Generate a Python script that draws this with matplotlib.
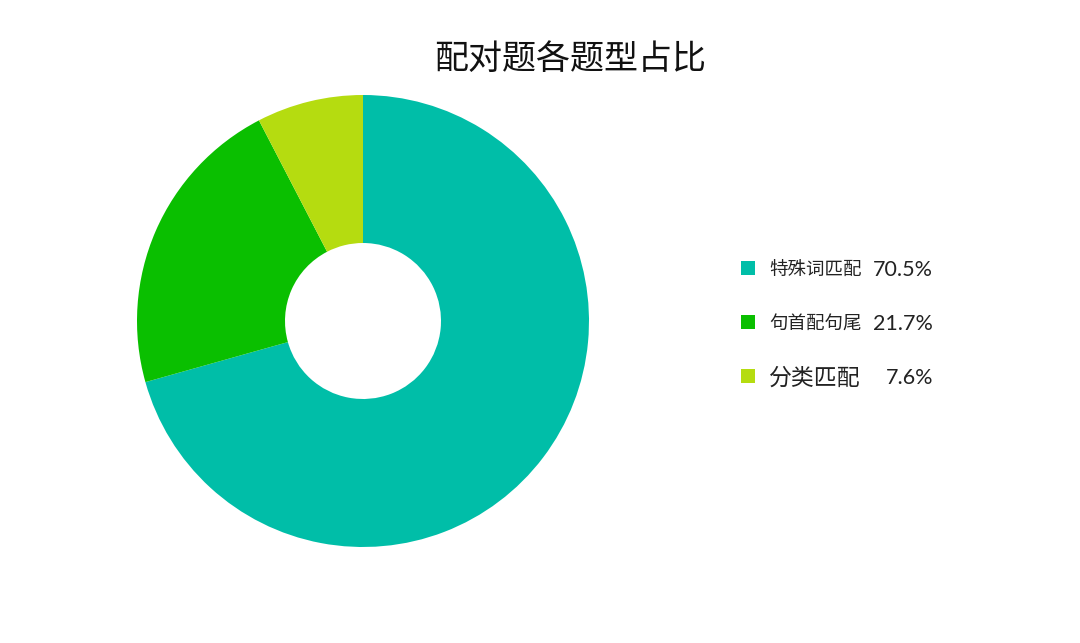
import matplotlib
matplotlib.use('Agg')
import matplotlib.pyplot as plt
from matplotlib.patches import Rectangle

plt.rcParams['font.family'] = ['Noto Sans CJK SC', 'DejaVu Sans']

# data
labels = ['特殊词匹配', '句首配句尾', '分类匹配']
shares = [70.5, 21.7, 7.6]
pct_text = ['70.5%', '21.7%', '7.6%']
colors = ['#00BEA8', '#0ABF00', '#B5DC10']
title = '配对题各题型占比'

W, H = 1080, 643
fig = plt.figure(figsize=(W / 100, H / 100), dpi=100)

# donut, centre (363, 321) px, outer radius 226 px
cx, cy, r = 363, 321, 226
ax = fig.add_axes([(cx - r) / W, (H - cy - r) / H, 2 * r / W, 2 * r / H])
ax.pie(shares, colors=colors, startangle=90, counterclock=False, radius=1,
       wedgeprops=dict(width=1 - 78 / 226, linewidth=0))
ax.set_xlim(-1, 1)
ax.set_ylim(-1, 1)
ax.set_aspect('auto')
ax.axis('off')

fig.text(570 / W, 1 - 59 / H, title, fontsize=24.5, ha='center', va='center',
         color='#111111')

# legend drawn by hand in figure pixel coords
leg = fig.add_axes([0, 0, 1, 1], facecolor='none')
leg.set_xlim(0, W)
leg.set_ylim(H, 0)
leg.axis('off')
ys = [268, 322, 376]
lsizes = [13.3, 13.3, 16.5]
for i in range(len(labels)):
    y = ys[i]
    leg.add_patch(Rectangle((741, y - 7), 14, 14, color=colors[i], lw=0))
    leg.text(769, y + 2, labels[i], fontsize=lsizes[i], va='center', ha='left',
             color='#222222')
    leg.text(933, y + 2, pct_text[i], fontsize=15.5, va='center', ha='right',
             family=['Lato', 'DejaVu Sans'], color='#222222')

fig.savefig('out.png', dpi=100, facecolor='white')
